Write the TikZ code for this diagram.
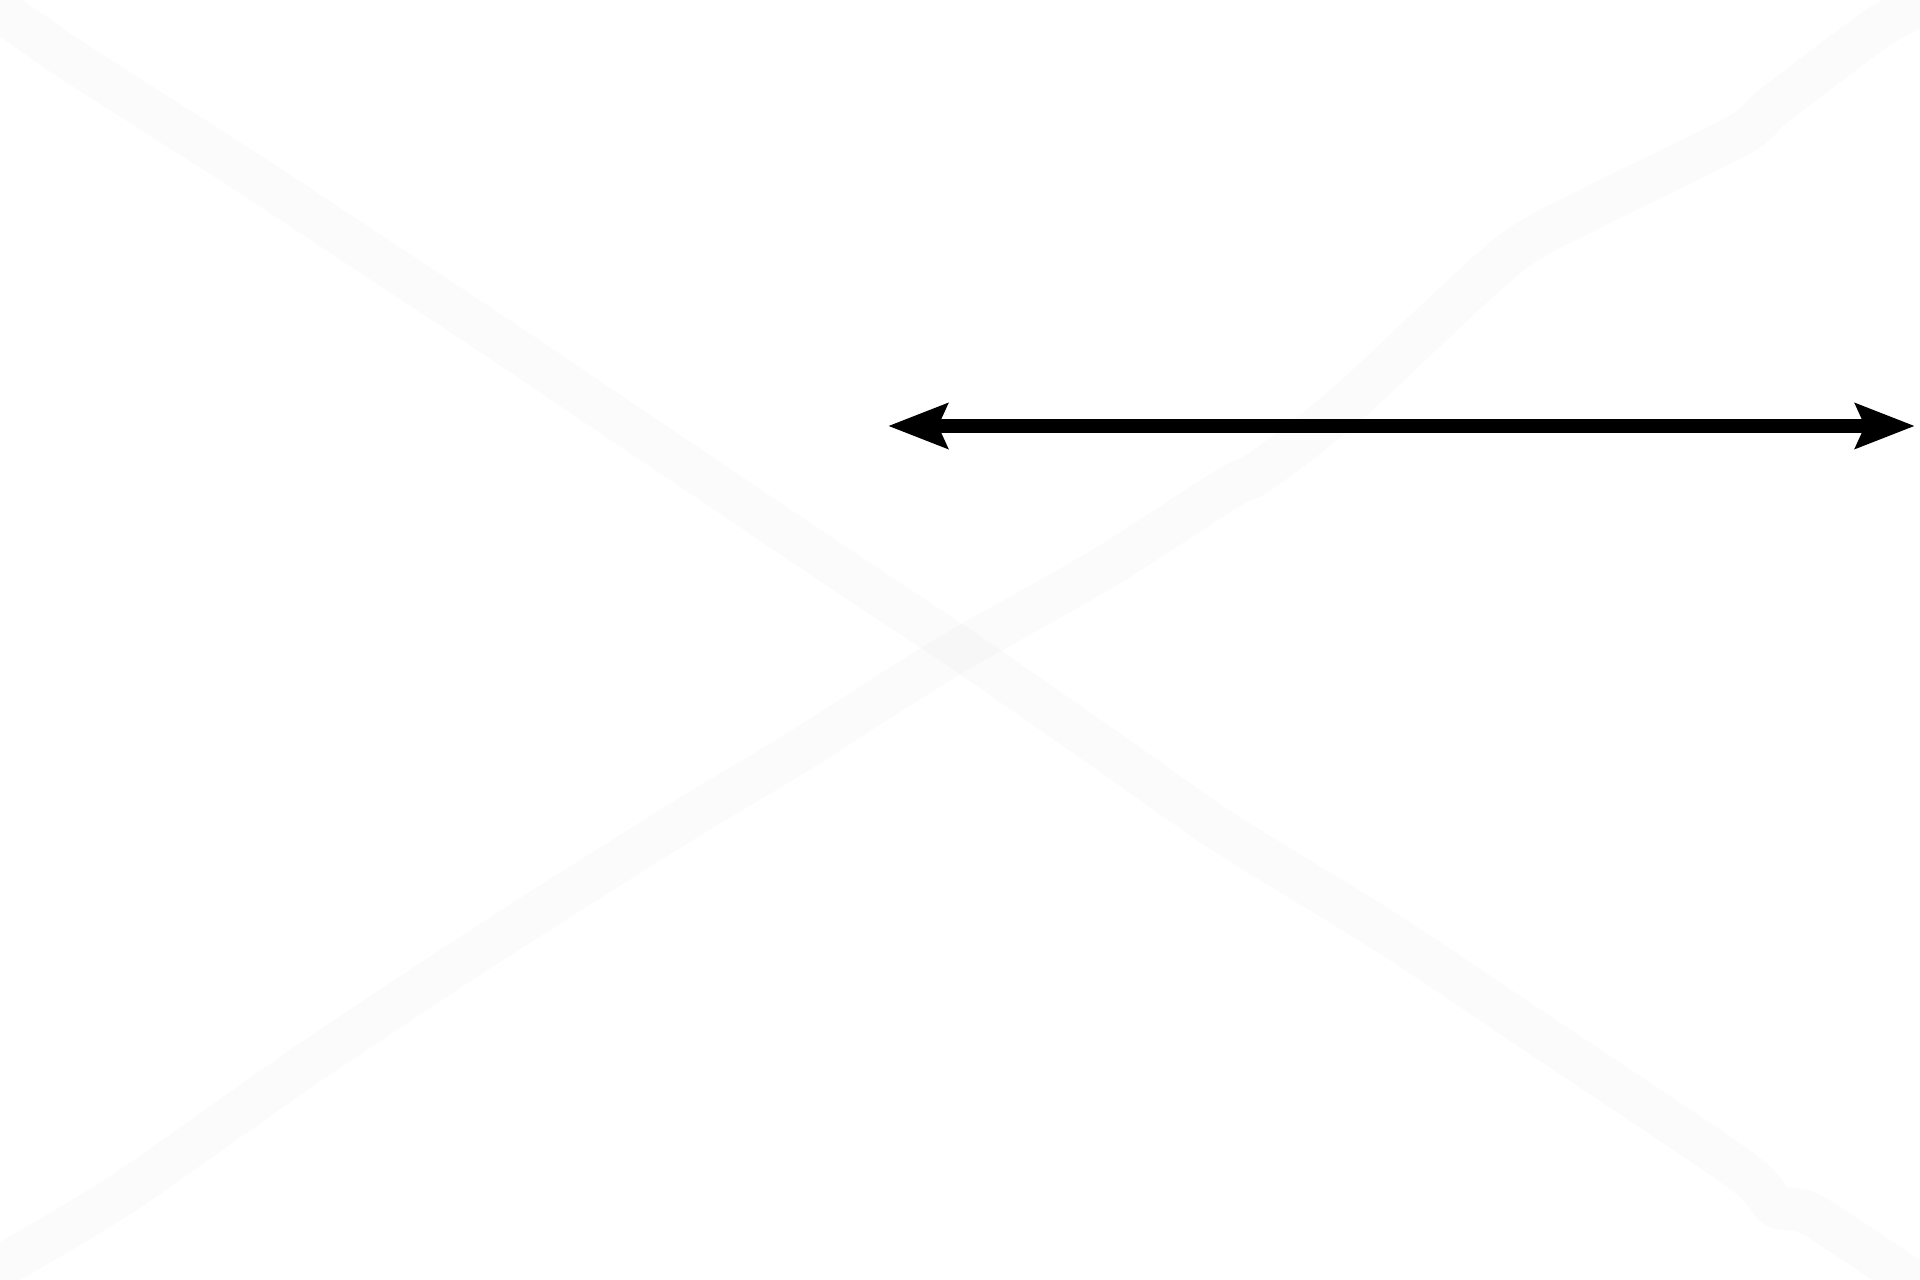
\documentclass[tikz,border=0pt]{standalone}
\usetikzlibrary{arrows.meta}
\tikzset{
  faintband/.style={draw=black, draw opacity=0.017, line width=0.43cm, line cap=butt, line join=round},
  dblarrow/.style={draw=black, line width=0.14cm, {Stealth[length=0.59cm,width=0.44cm,inset=0.09cm]}-{Stealth[length=0.59cm,width=0.44cm,inset=0.09cm]}}
}
\begin{document}
\begin{tikzpicture}[x=0.01cm,y=-0.01cm]
\useasboundingbox (0,0) rectangle (1920,1280);
\clip (0,0) rectangle (1920,1280);
\fill[white] (0,0) rectangle (1920,1280);
% descending band
\draw[faintband] plot[smooth, tension=0.45] coordinates {
  (-30,-12) (0,10) (73,61) (245,171) (404,276) (514,349) (686,465) (857,580)
  (961,649) (1102,747) (1225,833) (1384,931) (1531,1029) (1739,1169)
  (1776,1206) (1812,1215) (1920,1286) (1950,1306)};
% ascending band
\draw[faintband] plot[smooth, tension=0.45] coordinates {
  (-30,1287) (0,1267) (122,1194) (306,1065) (490,943) (673,827) (796,753) (882,698)
  (961,649) (1102,569) (1225,490) (1261,471) (1347,404) (1506,257) (1592,208)
  (1739,135) (1776,104) (1873,31) (1920,4) (1950,-14)};
% double-headed arrow
\coordinate (aleft) at (888,426);
\coordinate (aright) at (1915,426);
\draw[dblarrow] (aleft) -- (aright);
\end{tikzpicture}
\end{document}
